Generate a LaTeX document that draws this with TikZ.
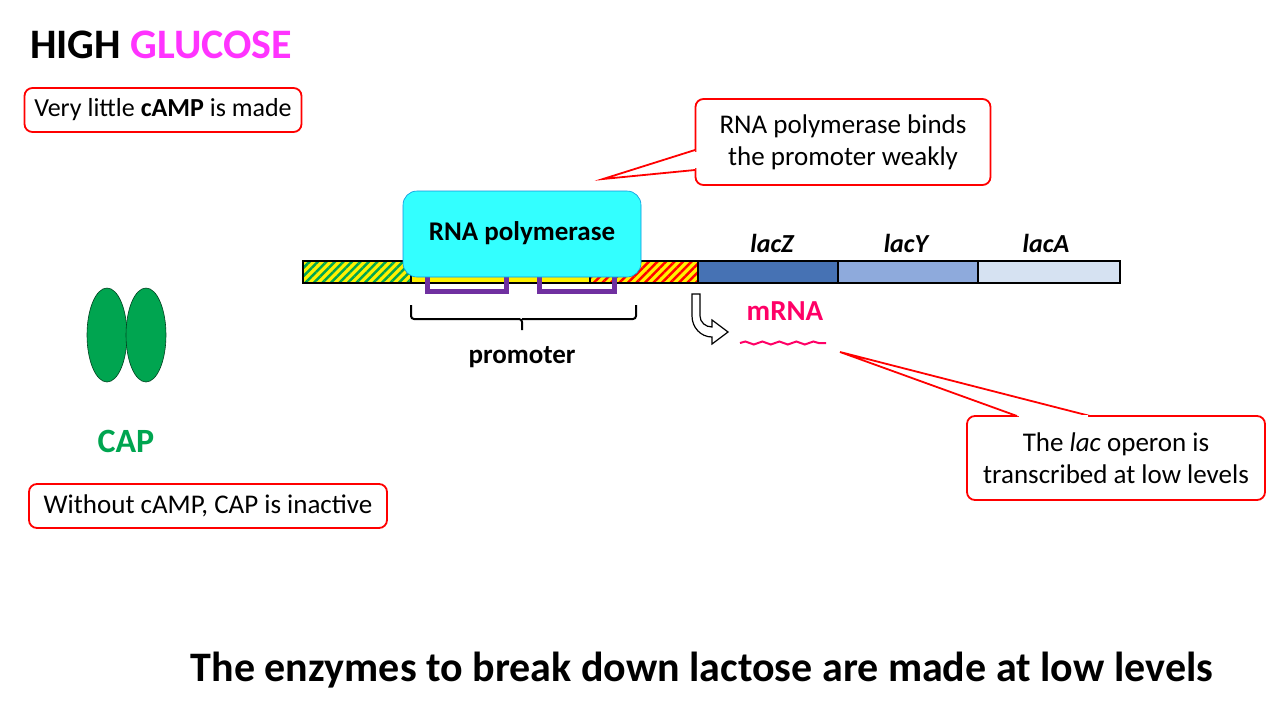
\documentclass[tikz,border=0pt]{standalone}
\usepackage{fontspec}
\setmainfont{Carlito}
\usetikzlibrary{patterns,patterns.meta,decorations.pathmorphing,shapes.geometric,calc}
\definecolor{cgreen}{HTML}{00A550}
\definecolor{lz}{HTML}{4672B4}
\definecolor{ly}{HTML}{8EAADC}
\definecolor{la}{HTML}{D6E2F2}
\definecolor{mag}{HTML}{FF33FF}
\definecolor{pink}{HTML}{FF0066}
\definecolor{purp}{HTML}{7030A0}
\definecolor{cyanp}{HTML}{33FFFF}
\tikzset{
  box/.style={draw=red,line width=1.8pt,rounded corners=8pt,fill=white,align=center,inner sep=0pt},
  seg/.style={draw=black,line width=2pt},
  gene/.style={font=\fontsize{26}{30}\selectfont\bfseries\itshape},
  capshape/.style={draw=black!60!cgreen,fill=cgreen,line width=0.6pt},
  hatch/.style={pattern={Lines[angle=45,distance=6pt,line width=2.5pt]},pattern color=#1}
}
\begin{document}
\begin{tikzpicture}[x=1pt,y=-1pt]
\useasboundingbox (0,0) rectangle (1287,707);
% title
\node[anchor=west,font=\fontsize{42}{48}\selectfont\bfseries,inner sep=0pt] (title) at (30,45) {HIGH \textcolor{mag}{GLUCOSE}};
\node[box,minimum width=277,minimum height=44,font=\fontsize{26}{31}\selectfont] (camp) at (163,110) {Very little \textbf{cAMP} is made};
% DNA
\fill[yellow] (303,261) rectangle (698,283);
\fill[hatch=cgreen] (303,261) rectangle (411,283);
\fill[hatch=red] (590,261) rectangle (698,283);
\node[seg,fill=lz,minimum width=140,minimum height=22,inner sep=0pt] (lacZ) at (768,272) {};
\node[seg,fill=ly,minimum width=140,minimum height=22,inner sep=0pt] (lacY) at (908,272) {};
\node[seg,fill=la,minimum width=142,minimum height=22,inner sep=0pt] (lacA) at (1049,272) {};
\draw[seg] (303,261) rectangle (698,283);
\draw[line width=2pt] (411,261) -- (411,283) (590,261) -- (590,283);
\node[gene] (tz) at (772,243) {lacZ};
\node[gene] (ty) at (906,243) {lacY};
\node[gene] (ta) at (1046,243) {lacA};
% purple
\draw[purp,line width=5pt] (427,268) -- (427,291) -- (506,291) -- (506,268);
\draw[purp,line width=5pt] (539,268) -- (539,291) -- (614,291) -- (614,268);
% polymerase
\node[draw=cyan!80!blue,fill=cyanp,rounded corners=14pt,minimum width=238,minimum height=86,inner sep=0pt,font=\fontsize{27}{32}\selectfont\bfseries,line width=0.6pt] (pol) at (522,234) {\raisebox{5pt}{RNA polymerase}};
% brace
\draw[line width=2pt,rounded corners=3pt] (411,305) -- (411,319) -- (522,319) -- (522,330) (522,319) -- (636,319) -- (636,305);
\node[font=\fontsize{27}{32}\selectfont\bfseries] (prom) at (522,357) {promoter};
% bent arrow
\draw[line width=1.2pt,fill=white] (700,294) -- (700,316) to[out=-90,in=180] (712,327) -- (712,320) -- (728,332) -- (712,344) -- (712,337) to[out=180,in=-90] (692,316) -- (692,294) -- cycle;
\node[font=\fontsize{29}{34}\selectfont\bfseries,text=pink] (mrna) at (785,311) {mRNA};
\draw[pink,line width=2pt,decorate,decoration={snake,amplitude=1.5pt,segment length=17pt}] (740,343) -- (826,343);
\coordinate (mr) at (840,352);
\coordinate (pt) at (603,179);
% callouts
\node[box,minimum width=295,minimum height=86,font=\fontsize{27}{32}\selectfont] (c1) at (843,142) {RNA polymerase binds\\the promoter weakly};
\draw[red,line width=1.8pt,fill=white,line join=miter] (695,150) -- (pt) -- (695,170);
\draw[white,line width=3pt] (695,152) -- (695,168);
\node[box,minimum width=298,minimum height=84,font=\fontsize{27}{32}\selectfont] (c2) at (1116,458) {The \textit{lac} operon is\\transcribed at low levels};
\draw[red,line width=1.8pt,fill=white] (1017,416) -- (mr) -- (1090,416);
\draw[white,line width=3pt] (1019,416) -- (1088,416);
% CAP
\node[capshape,ellipse,minimum width=40,minimum height=94,inner sep=0pt] (e1) at (107,335) {};
\node[capshape,ellipse,minimum width=40,minimum height=94,inner sep=0pt] (e2) at (146,335) {};
\node[font=\fontsize{34}{40}\selectfont\bfseries,text=cgreen] (captext) at (126,441) {CAP};
\node[box,minimum width=358,minimum height=44,font=\fontsize{27}{32}\selectfont] (inact) at (208,506) {Without cAMP, CAP is inactive};
% bottom
\node[font=\fontsize{42}{48}\selectfont\bfseries] (bottom) at (702,670) {The enzymes to break down lactose are made at low levels};
\end{tikzpicture}
\end{document}
